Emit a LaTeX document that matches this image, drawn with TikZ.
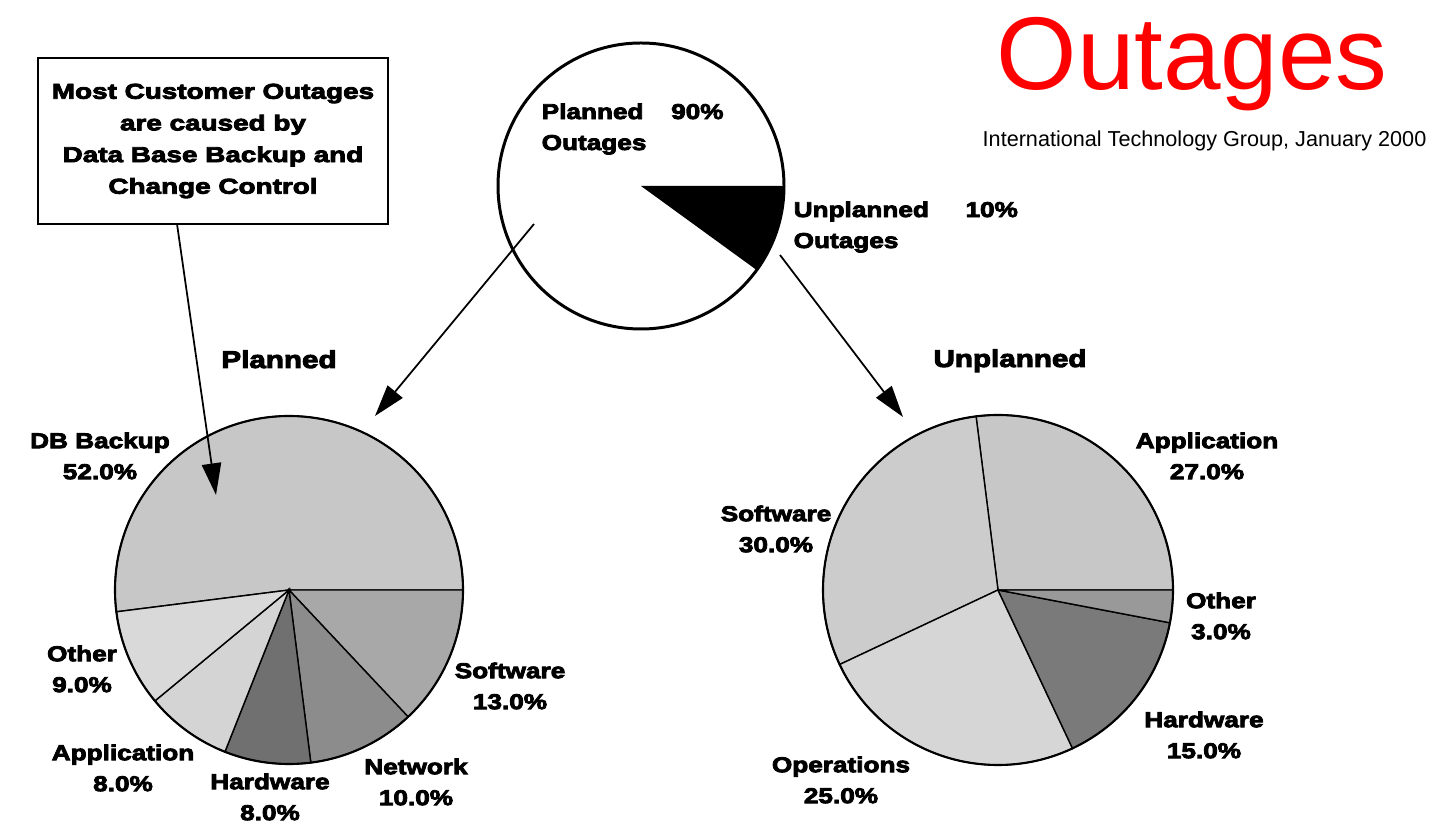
\documentclass[tikz,border=0pt]{standalone}
\usepackage{fontspec}
\setmainfont{Liberation Sans}
\newfontfamily\heavyfont{Liberation Sans}[UprightFont=* Bold, FakeStretch=1.22, FakeBold=4]
\newfontfamily\widefont{Liberation Sans}[UprightFont=* Bold, FakeStretch=1.3, FakeBold=4]
\usetikzlibrary{arrows.meta}

\tikzset{
  slice/.style={draw=black, line width=0.4pt},
  rim/.style={draw=black, line width=0.6pt},
  pielabel/.style={font={\heavyfont\fontsize{6.1}{8.8}\selectfont}, align=center, inner sep=0pt},
  piehead/.style={font={\heavyfont\fontsize{6.9}{8}\selectfont}, inner sep=0pt, anchor=base},
  bigarrow/.style={line width=0.5pt, -{Triangle[length=9pt,width=5.5pt]}},
  notebox/.style={draw, line width=0.6pt, minimum width=3.5cm, minimum height=1.66cm, align=center,
    font={\widefont\fontsize{6.1}{9}\selectfont}},
}

\begin{document}
\begin{tikzpicture}[x=0.01cm, y=0.01cm]
  \useasboundingbox (0,0) rectangle (1448,-825);

  % title
  \node[anchor=base west, inner sep=0pt, text=red, font=\fontsize{29.4}{31}\selectfont] (title) at (996,-90) {Outages};
  \node[anchor=base west, inner sep=0pt, font=\fontsize{6.15}{7}\selectfont] (source) at (982,-147) {International Technology Group, January 2000};

  % top pie: planned vs unplanned
  \coordinate (toppie) at (641,-186);
  \fill[black] (toppie) -- ++(-36:143) arc[start angle=-36, end angle=0, radius=143] -- cycle;
  \draw[line width=0.85pt] (toppie) circle[radius=143];
  \node[pielabel, align=left, anchor=west] (plannedtxt) at (541,-129) {\makebox[1.294cm][l]{Planned}90\%\\Outages};
  \node[pielabel, align=left, anchor=west] (unplannedtxt) at (793,-227) {\makebox[1.717cm][l]{Unplanned}10\%\\Outages};

  % left pie
  \coordinate (leftpie) at (289,-590);
  \foreach \from/\to/\shade in {0/187.2/22, -46.8/0/34, -82.8/-46.8/45, -111.6/-82.8/56, -140.4/-111.6/17, -172.8/-140.4/15}
    \filldraw[slice, fill=black!\shade] (leftpie) -- ++(\from:174) arc[start angle=\from, end angle=\to, radius=174] -- cycle;
  \draw[rim] (leftpie) circle[radius=174];
  \node[piehead] (plannedhead) at (279,-368) {Planned};
  \node[pielabel] (dbbackup) at (100,-456) {DB Backup\\52.0\%};
  \node[pielabel] (lsoftware) at (510,-686) {Software\\13.0\%};
  \node[pielabel] (lnetwork) at (416,-782) {Network\\10.0\%};
  \node[pielabel] (lhardware) at (270,-797) {Hardware\\8.0\%};
  \node[pielabel] (lapplication) at (123,-768) {Application\\8.0\%};
  \node[pielabel] (lother) at (82,-669) {Other\\9.0\%};

  % right pie
  \coordinate (rightpie) at (998,-590);
  \foreach \from/\to/\shade in {0/97.2/22, 97.2/205.2/20, 205.2/295.2/16, 295.2/349.2/52, 349.2/360/40}
    \filldraw[slice, fill=black!\shade] (rightpie) -- ++(\from:175) arc[start angle=\from, end angle=\to, radius=175] -- cycle;
  \draw[rim] (rightpie) circle[radius=175];
  \node[piehead] (unplannedhead) at (1010,-367) {Unplanned};
  \node[pielabel] (rapplication) at (1207,-456) {Application\\27.0\%};
  \node[pielabel] (rsoftware) at (776,-529) {Software\\30.0\%};
  \node[pielabel] (roperations) at (841,-780) {Operations\\25.0\%};
  \node[pielabel] (rhardware) at (1204,-735) {Hardware\\15.0\%};
  \node[pielabel] (rother) at (1221,-616) {Other\\3.0\%};

  % callout box
  \node[notebox] (note) at (213,-141) {Most Customer Outages\\are caused by\\Data Base Backup and\\Change Control};

  % arrows
  \coordinate (plannedfrom) at (534,-224);
  \coordinate (plannedto) at (375,-416);
  \coordinate (unplannedfrom) at (780,-255);
  \coordinate (unplannedto) at (903,-417);
  \coordinate (notefrom) at (177,-224);
  \coordinate (noteto) at (216,-495);
  \draw[bigarrow] (plannedfrom) -- (plannedto);
  \draw[bigarrow] (unplannedfrom) -- (unplannedto);
  \draw[bigarrow] (notefrom) -- (noteto);
\end{tikzpicture}
\end{document}
